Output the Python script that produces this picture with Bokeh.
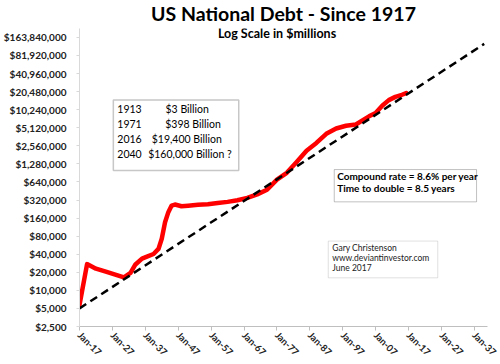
import math
from bokeh.plotting import figure
from bokeh.models import FixedTicker, Label, BoxAnnotation, ColumnDataSource, Range1d, Title
from bokeh.embed import file_html
from bokeh.resources import INLINE

# ---- data (values in $ millions) ----
years = [1917, 1919.3, 1922, 1925, 1930.5, 1932.5, 1934, 1936, 1937.5, 1939.5, 1941,
         1942, 1943, 1944, 1945, 1946, 1948, 1950, 1953, 1956, 1959, 1962, 1965,
         1968, 1971, 1974, 1977, 1980, 1983, 1986, 1989, 1992, 1995, 1998, 2001,
         2003, 2005, 2007, 2009, 2011, 2013, 2015, 2016.3]
debt = [5700, 27400, 23000, 20500, 16500, 19500, 27000, 33800, 36400, 40400, 49000,
        72400, 136700, 201000, 258700, 269400, 252300, 257400, 266100, 272700, 284700,
        298200, 317300, 347600, 398000, 475000, 699000, 908000, 1377000, 2125000,
        2857000, 4065000, 4974000, 5526000, 5807000, 6783000, 7933000, 9008000,
        11910000, 14790000, 16738000, 18151000, 19400000]

trend_years = [1917, 2040]
trend_debt = [5000, 128000000]

y_ticks = [2500, 5000, 10000, 20000, 40000, 80000, 160000, 320000, 640000, 1280000,
           2560000, 5120000, 10240000, 20480000, 40960000, 81920000, 163840000]
y_tick_labels = ["$2,500", "$5,000", "$10,000", "$20,000", "$40,000", "$80,000",
                 "$160,000", "$320,000", "$640,000", "$1,280,000", "$2,560,000",
                 "$5,120,000", "$10,240,000", "$20,480,000", "$40,960,000",
                 "$81,920,000", "$163,840,000"]
x_ticks = [1917, 1927, 1937, 1947, 1957, 1967, 1977, 1987, 1997, 2007, 2017, 2027, 2037]
x_tick_labels = ["Jan-17", "Jan-27", "Jan-37", "Jan-47", "Jan-57", "Jan-67", "Jan-77",
                 "Jan-87", "Jan-97", "Jan-07", "Jan-17", "Jan-27", "Jan-37"]

table_years = ["1913", "1971", "2016", "2040"]
table_amounts = ["$3 Billion", "$398 Billion", "$19,400 Billion", "$160,000 Billion ?"]

X0, X1 = 1917, 2041
Y0, Y1 = 2500, 230800000

W, H = 500, 364
ML, MR, MT, MB = 77, 13, 28, 36
FW, FH = W - ML - MR, H - MT - MB

def dx(px):
    """figure pixel x -> data x"""
    return X0 + (px - ML) / FW * (X1 - X0)

def dy(py):
    """figure pixel y (from top) -> data y on log scale"""
    frac = (MT + FH - py) / FH
    return 10 ** (math.log10(Y0) + frac * (math.log10(Y1) - math.log10(Y0)))

p = figure(width=W, height=H, output_backend="svg", toolbar_location=None,
           y_axis_type="log", x_range=Range1d(X0, X1), y_range=Range1d(Y0, Y1),
           min_border_left=ML, min_border_right=MR, min_border_top=MT,
           min_border_bottom=MB)
p.outline_line_color = None
p.xgrid.grid_line_color = None
p.ygrid.grid_line_color = None
p.background_fill_color = "white"

FONT = "Lato"

p.add_layout(Title(text="US National Debt - Since 1917", align="center", offset=-6.5,
                   standoff=3, vertical_align="top", text_font=FONT,
                   text_font_style="bold", text_font_size="19.5px",
                   text_color="black"), "above")

ya = p.yaxis[0]
ya.ticker = FixedTicker(ticks=y_ticks)
ya.major_label_overrides = {t: l for t, l in zip(y_ticks, y_tick_labels)}
ya.minor_tick_line_color = None
ya.axis_line_color = "#d9d9d9"
ya.major_tick_line_color = "#d9d9d9"
ya.major_tick_out = 3
ya.major_tick_in = 0
ya.major_label_standoff = 10
ya.major_label_text_font = FONT
ya.major_label_text_font_style = "bold"
ya.major_label_text_font_size = "10px"
ya.major_label_text_color = "#222222"

xa = p.xaxis[0]
xa.ticker = FixedTicker(ticks=x_ticks)
xa.major_label_overrides = {t: l for t, l in zip(x_ticks, x_tick_labels)}
xa.minor_tick_line_color = None
xa.axis_line_color = "#bfbfbf"
xa.major_tick_line_color = "#bfbfbf"
xa.major_tick_out = 4
xa.major_tick_in = 0
xa.major_label_standoff = 3
xa.major_label_orientation = -math.pi / 4
xa.major_label_text_font = FONT
xa.major_label_text_font_style = "bold"
xa.major_label_text_font_size = "9.5px"
xa.major_label_text_color = "#222222"

src = ColumnDataSource(dict(x=years, y=debt))
p.line("x", "y", source=src, line_color="#ff0000", line_width=4.5, line_join="round",
       line_cap="round")
tsrc = ColumnDataSource(dict(x=trend_years, y=trend_debt))
p.line("x", "y", source=tsrc, line_color="black", line_width=2.5, line_dash="8 5")

# subtitle
p.add_layout(Label(x=dx(275.5), y=dy(33), text="Log Scale in $millions",
                   text_align="center", text_baseline="middle", text_font=FONT,
                   text_font_style="bold", text_font_size="12.5px", text_color="black"))

# box 1
p.add_layout(BoxAnnotation(left=dx(111), right=dx(237), top=dy(100), bottom=dy(171),
                           fill_color="white", fill_alpha=1, line_color="#444444",
                           line_width=1.5, level="overlay"))
row_y = [109.5, 124.5, 139.5, 154.5]
amt_right = [207, 219, 220, 230]
for yr, amt, ry, ar in zip(table_years, table_amounts, row_y, amt_right):
    p.add_layout(Label(x=dx(115), y=dy(ry), text=yr, text_align="left",
                       text_baseline="middle", text_font=FONT, text_font_size="10.5px",
                       text_color="black", level="overlay"))
    p.add_layout(Label(x=dx(ar), y=dy(ry), text=amt, text_align="right",
                       text_baseline="middle", text_font=FONT, text_font_size="10.5px",
                       text_color="black", level="overlay"))

# box 2
p.add_layout(BoxAnnotation(left=dx(333), right=dx(476), top=dy(170), bottom=dy(202.5),
                           fill_color="white", fill_alpha=1, line_color="#333333",
                           line_width=1, level="overlay"))
for t, ry in zip(["Compound rate = 8.6% per year", "Time to double = 8.5 years"],
                 [176.8, 189]):
    p.add_layout(Label(x=dx(336), y=dy(ry), text=t, text_align="left",
                       text_baseline="middle", text_font=FONT, text_font_style="bold",
                       text_font_size="10px", text_color="black", level="overlay"))

# box 3
p.add_layout(BoxAnnotation(left=dx(327), right=dx(437), top=dy(242), bottom=dy(279),
                           fill_color="white", fill_alpha=1, line_color="#999999",
                           line_width=1, level="overlay"))
for t, ry in zip(["Gary Christenson", "www.deviantinvestor.com", "June 2017"],
                 [249, 259, 268.7]):
    p.add_layout(Label(x=dx(331), y=dy(ry), text=t, text_align="left",
                       text_baseline="middle", text_font=FONT, text_font_size="8.5px",
                       text_color="#222222", level="overlay"))

open("out.html", "w").write(file_html(p, INLINE))
